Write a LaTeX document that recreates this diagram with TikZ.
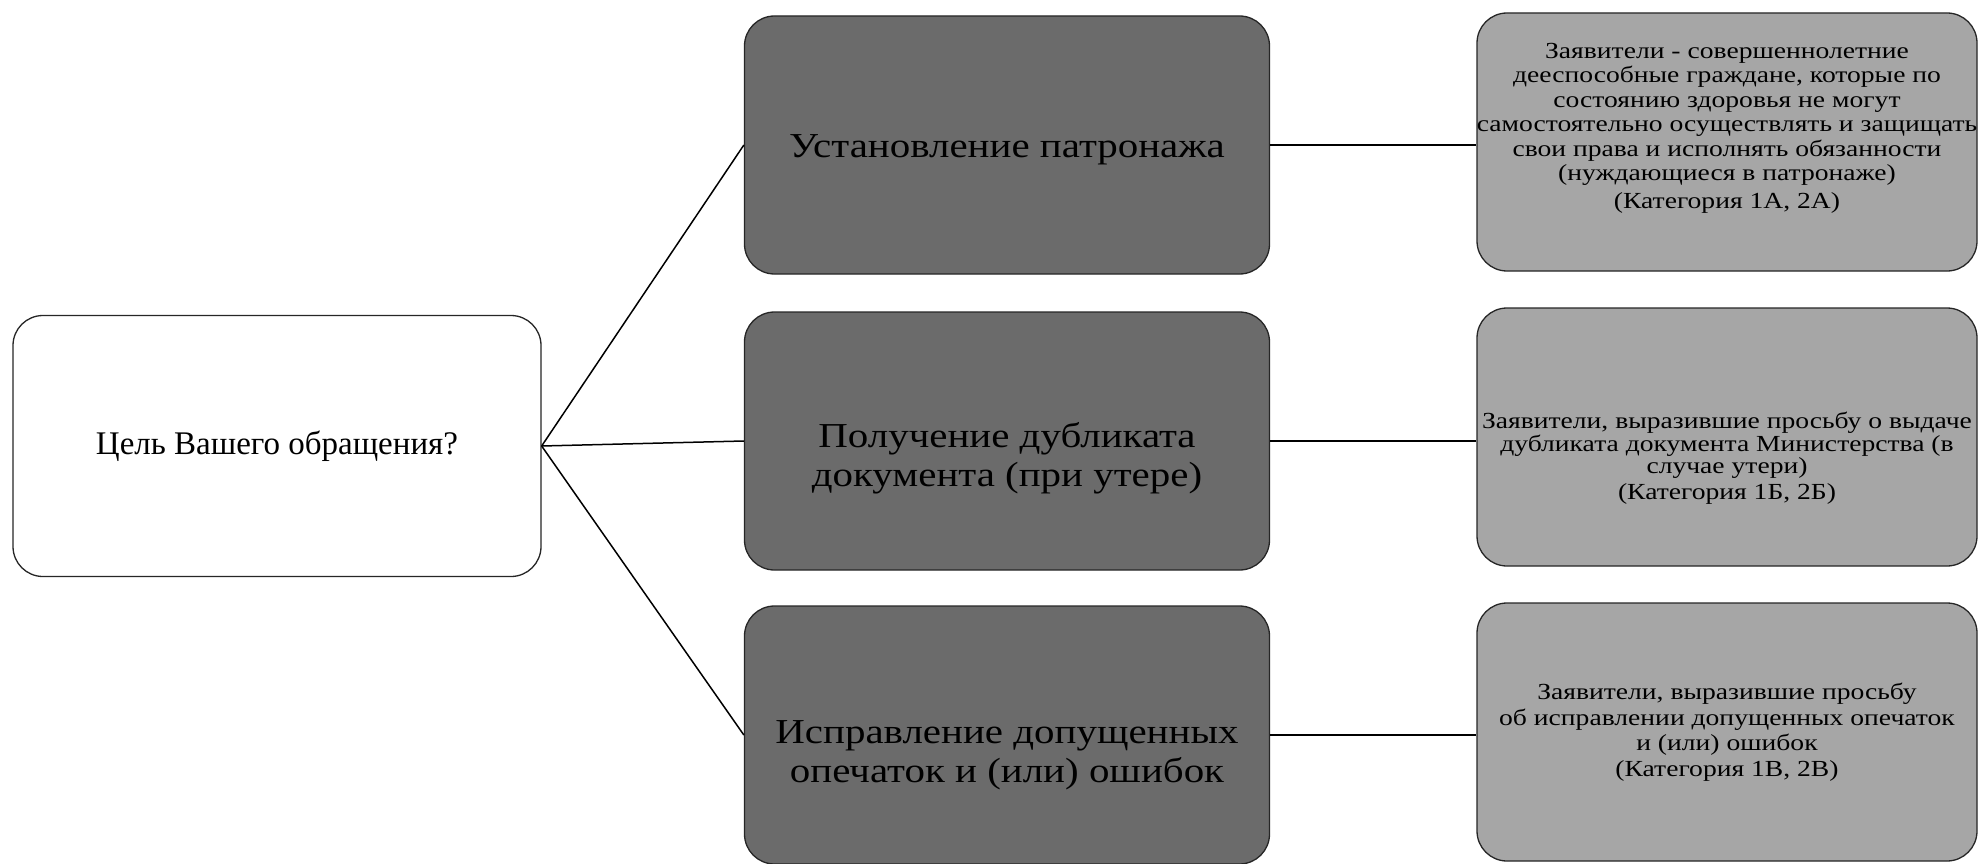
\documentclass[tikz,border=0pt]{standalone}
\usepackage{fontspec}
\setmainfont{Liberation Serif}
\newfontfamily\midfont[FakeStretch=1.17]{Liberation Serif}
\newfontfamily\rightfont[FakeStretch=1.2]{Liberation Serif}
\begin{document}
\begin{tikzpicture}[x=1pt,y=-1pt,
  base/.style={draw=black!85, line width=1.3pt, rounded corners=30pt, inner sep=0pt},
  startbox/.style={base, fill=white, minimum width=528pt, minimum height=261pt},
  darkbox/.style={base, fill=black!58, minimum width=525pt, minimum height=258pt},
  lightbox/.style={base, fill=black!35, minimum width=500pt, minimum height=258pt},
  starttext/.style={align=center, inner sep=0pt, font=\fontsize{33}{38}\selectfont},
  midtext/.style={align=center, inner sep=0pt, font=\midfont\fontsize{35}{39}\selectfont},
  righttext/.style={align=center, inner sep=0pt, font=\rightfont\fontsize{23}{24.5}\selectfont},
  link/.style={draw=black, line width=1.5pt}]
\useasboundingbox (0,0) rectangle (1979,864);
\node[startbox] (q) at (277,446) {};
\node[darkbox] (m1) at (1007,145) {};
\node[darkbox] (m2) at (1007,441) {};
\node[darkbox] (m3) at (1007,735) {};
\node[lightbox] (r1) at (1727,142) {};
\node[lightbox] (r2) at (1727,437) {};
\node[lightbox] (r3) at (1727,732) {};
\node[starttext] (tq) at (q.center) {Цель Вашего обращения?};
\node[midtext] (t1) at ([yshift=-5pt]m1.center) {Установление патронажа};
\node[midtext] (t2) at ([yshift=-17pt]m2.center) {Получение дубликата\\документа (при утере)};
\node[midtext] (t3) at ([yshift=-20pt]m3.center) {Исправление допущенных\\опечаток и (или) ошибок};
\node[righttext] (u1) at ([yshift=14pt]r1.center) {Заявители - совершеннолетние\\дееспособные граждане, которые по\\состоянию здоровья не могут\\самостоятельно осуществлять и защищать\\свои права и исполнять обязанности\\(нуждающиеся в патронаже)\\[3pt](Категория 1А, 2А)};
\node[righttext, font=\rightfont\fontsize{23}{22.5}\selectfont] (u2) at ([yshift=-21pt]r2.center) {Заявители, выразившие просьбу о выдаче\\дубликата документа Министерства (в\\случае утери)\\[3pt](Категория 1Б, 2Б)};
\node[righttext, font=\rightfont\fontsize{23}{25.5}\selectfont] (u3) at (r3.center) {Заявители, выразившие просьбу\\об исправлении допущенных опечаток\\и (или) ошибок\\(Категория 1В, 2В)};
\draw[link] (q.east) -- (m1.west);
\draw[link] (q.east) -- (m2.west);
\draw[link] (q.east) -- (m3.west);
\draw[link] (m1.east) -- (m1.east -| r1.west);
\draw[link] (m2.east) -- (m2.east -| r2.west);
\draw[link] (m3.east) -- (m3.east -| r3.west);
\end{tikzpicture}
\end{document}
